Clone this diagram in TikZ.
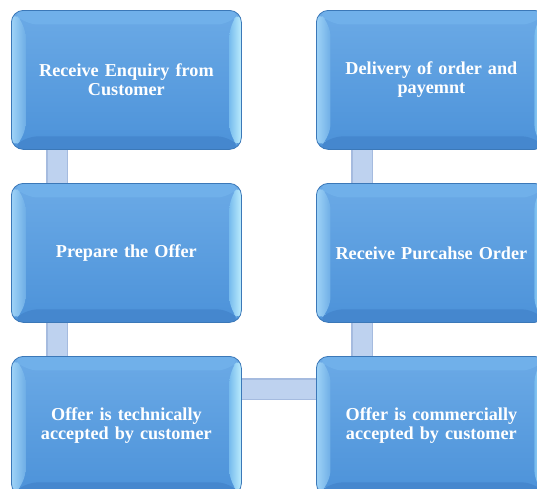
\documentclass[tikz,border=0pt]{standalone}
\usepackage{fontspec}
\setmainfont{Liberation Serif}
\usetikzlibrary{calc,backgrounds}
\definecolor{faceTop}{HTML}{6BAAE6}
\definecolor{faceBot}{HTML}{4C92D9}
\definecolor{edgeC}{HTML}{3B78B8}
\definecolor{bevTop}{HTML}{70B0EA}
\definecolor{bevBot}{HTML}{4587CE}
\definecolor{bevLo}{HTML}{9ED3F7}
\definecolor{bevLi}{HTML}{6FAEE6}
\definecolor{bevRi}{HTML}{78BCEE}
\definecolor{bevRo}{HTML}{BDEDFD}
\definecolor{connEdge}{HTML}{A5BBDF}
\definecolor{connFill}{HTML}{BED2EF}
\begin{document}
\begin{tikzpicture}[x=1pt,y=1pt,
  stepbox/.style={rounded corners=12pt, minimum width=230pt, minimum height=139pt,
    inner sep=0pt, draw=edgeC, line width=0.8pt, top color=faceTop, bottom color=faceBot,
    text=white, font=\bfseries\fontsize{18.2}{19}\selectfont, align=center,
    text width=226pt, anchor=north west,
    path picture={
      \path (path picture bounding box.north west) coordinate (O1)
            (path picture bounding box.north east) coordinate (O2)
            (path picture bounding box.south east) coordinate (O3)
            (path picture bounding box.south west) coordinate (O4);
      \path ($(O1)+(14,-14)$) coordinate (I1)
            ($(O2)+(-12,-14)$) coordinate (I2)
            ($(O3)+(-12,13)$) coordinate (I3)
            ($(O4)+(14,13)$) coordinate (I4);
      \fill[bevTop] (O1) -- (O2) -- (I2) -- (I1) -- cycle;
      \fill[bevBot] (O4) -- (I4) -- (I3) -- (O3) -- cycle;
      \shade[left color=bevLo, right color=bevLi] (O1) -- (I1) -- (I4) -- (O4) -- cycle;
      \shade[left color=bevRi, right color=bevRo] (I2) -- (O2) -- (O3) -- (I3) -- cycle;
    }},
  connB/.style={draw=connEdge, line width=22pt, shorten <=-4pt, shorten >=-4pt},
  connF/.style={draw=connFill, line width=19pt, shorten <=-4pt, shorten >=-4pt}
]
\useasboundingbox (0,0) rectangle (537,-488);
\node[stepbox] (b1) at (11,-10) {Receive Enquiry from\\Customer};
\node[stepbox] (b2) at (11,-183) {Prepare the Offer};
\node[stepbox] (b3) at (11,-356) {Offer is technically\\accepted by customer};
\node[stepbox] (b4) at (316,-356) {Offer is commercially\\accepted by customer};
\node[stepbox] (b5) at (316,-183) {Receive Purcahse Order};
\node[stepbox] (b6) at (316,-10) {Delivery of order and\\payemnt};
\begin{scope}[on background layer]
  \draw[connB] ($(b1.south west)+(46,0)$) -- ($(b2.north west)+(46,0)$);
  \draw[connF] ($(b1.south west)+(46,0)$) -- ($(b2.north west)+(46,0)$);
  \draw[connB] ($(b2.south west)+(46,0)$) -- ($(b3.north west)+(46,0)$);
  \draw[connF] ($(b2.south west)+(46,0)$) -- ($(b3.north west)+(46,0)$);
  \draw[connB] ($(b3.north east)+(0,-33)$) -- ($(b4.north west)+(0,-33)$);
  \draw[connF] ($(b3.north east)+(0,-33)$) -- ($(b4.north west)+(0,-33)$);
  \draw[connB] ($(b4.north west)+(46,0)$) -- ($(b5.south west)+(46,0)$);
  \draw[connF] ($(b4.north west)+(46,0)$) -- ($(b5.south west)+(46,0)$);
  \draw[connB] ($(b5.north west)+(46,0)$) -- ($(b6.south west)+(46,0)$);
  \draw[connF] ($(b5.north west)+(46,0)$) -- ($(b6.south west)+(46,0)$);
\end{scope}
\end{tikzpicture}
\end{document}
